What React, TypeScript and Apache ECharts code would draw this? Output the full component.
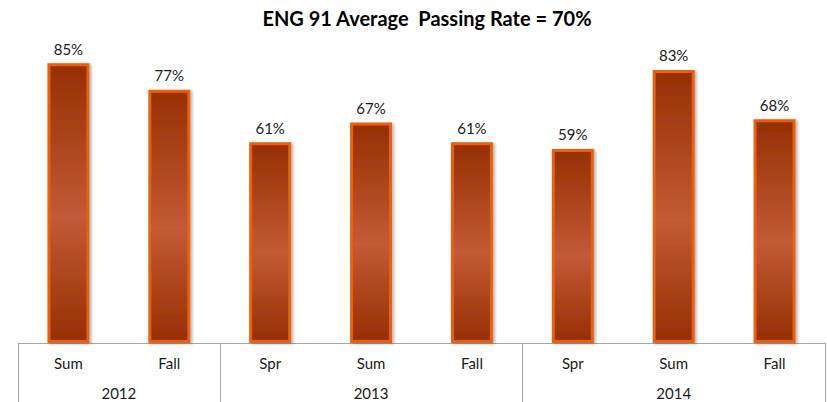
import React, { useEffect, useRef } from "react";
import * as echarts from "echarts";

const terms = ["Sum", "Fall", "Spr", "Sum", "Fall", "Spr", "Sum", "Fall"];
const passRates = [85, 77, 61, 67, 61, 59, 83, 68];
const years = ["2012", "2013", "2014"];
// year label positions on a half-step axis (17 points: 0..16), and group boundaries
const yearSlots = [2, 7, 13];
const boundarySlots = [0, 4, 10, 16];
const titleText = "ENG 91 Average  Passing Rate = 70%";

export default function App() {
  const ref = useRef<HTMLDivElement>(null);
  useEffect(() => {
    document.body.style.margin = "0";
    const chart = echarts.init(ref.current!, null, { renderer: "svg" });
    const halfSlots: string[] = Array.from({ length: 17 }, (_, i) => {
      const yi = yearSlots.indexOf(i);
      return yi >= 0 ? years[yi] : "s" + i;
    });
    const font = "Lato, 'Open Sans', sans-serif";
    chart.setOption({
      animation: false,
      title: {
        text: titleText,
        left: 422,
        textAlign: "center",
        top: 3,
        textStyle: { fontFamily: font, fontWeight: "bold", fontSize: 20, color: "#000" },
      },
      grid: { left: 18, right: 2, top: 14, bottom: 59, containLabel: false },
      xAxis: [
        {
          type: "category",
          data: terms,
          axisLine: { show: true, lineStyle: { color: "#a6a6a6", width: 1 } },
          axisTick: { show: false },
          axisLabel: { margin: 12, fontFamily: font, fontSize: 15, color: "#1a1a1a" },
        },
        {
          type: "category",
          data: halfSlots,
          boundaryGap: false,
          position: "bottom",
          axisLine: { show: false },
          axisTick: {
            show: true,
            length: 60,
            interval: (i: number) => boundarySlots.includes(i),
            lineStyle: { color: "#a6a6a6", width: 1 },
          },
          axisLabel: {
            margin: 42,
            interval: (i: number) => yearSlots.includes(i),
            fontFamily: font,
            fontSize: 15,
            color: "#1a1a1a",
          },
        },
      ],
      yAxis: { type: "value", min: 0, max: 100, show: false, splitLine: { show: false } },
      series: [
        {
          type: "bar",
          xAxisIndex: 0,
          data: passRates,
          barWidth: 42,
          itemStyle: {
            color: new echarts.graphic.LinearGradient(0, 0, 0, 1, [
              { offset: 0, color: "#972f02" },
              { offset: 0.55, color: "#c35a37" },
              { offset: 1, color: "#972f02" },
            ]),
            borderColor: "#e9600f",
            borderWidth: 3,
            shadowColor: "rgba(0,0,0,0.3)",
            shadowBlur: 3,
            shadowOffsetX: 2,
            shadowOffsetY: 1,
          },
          label: {
            show: true,
            position: "top",
            distance: 7,
            formatter: "{c}%",
            fontFamily: font,
            fontSize: 15,
            color: "#1a1a1a",
          },
        },
      ],
    });
    return () => chart.dispose();
  }, []);
  return <div ref={ref} style={{ width: 827, height: 402 }} />;
}
